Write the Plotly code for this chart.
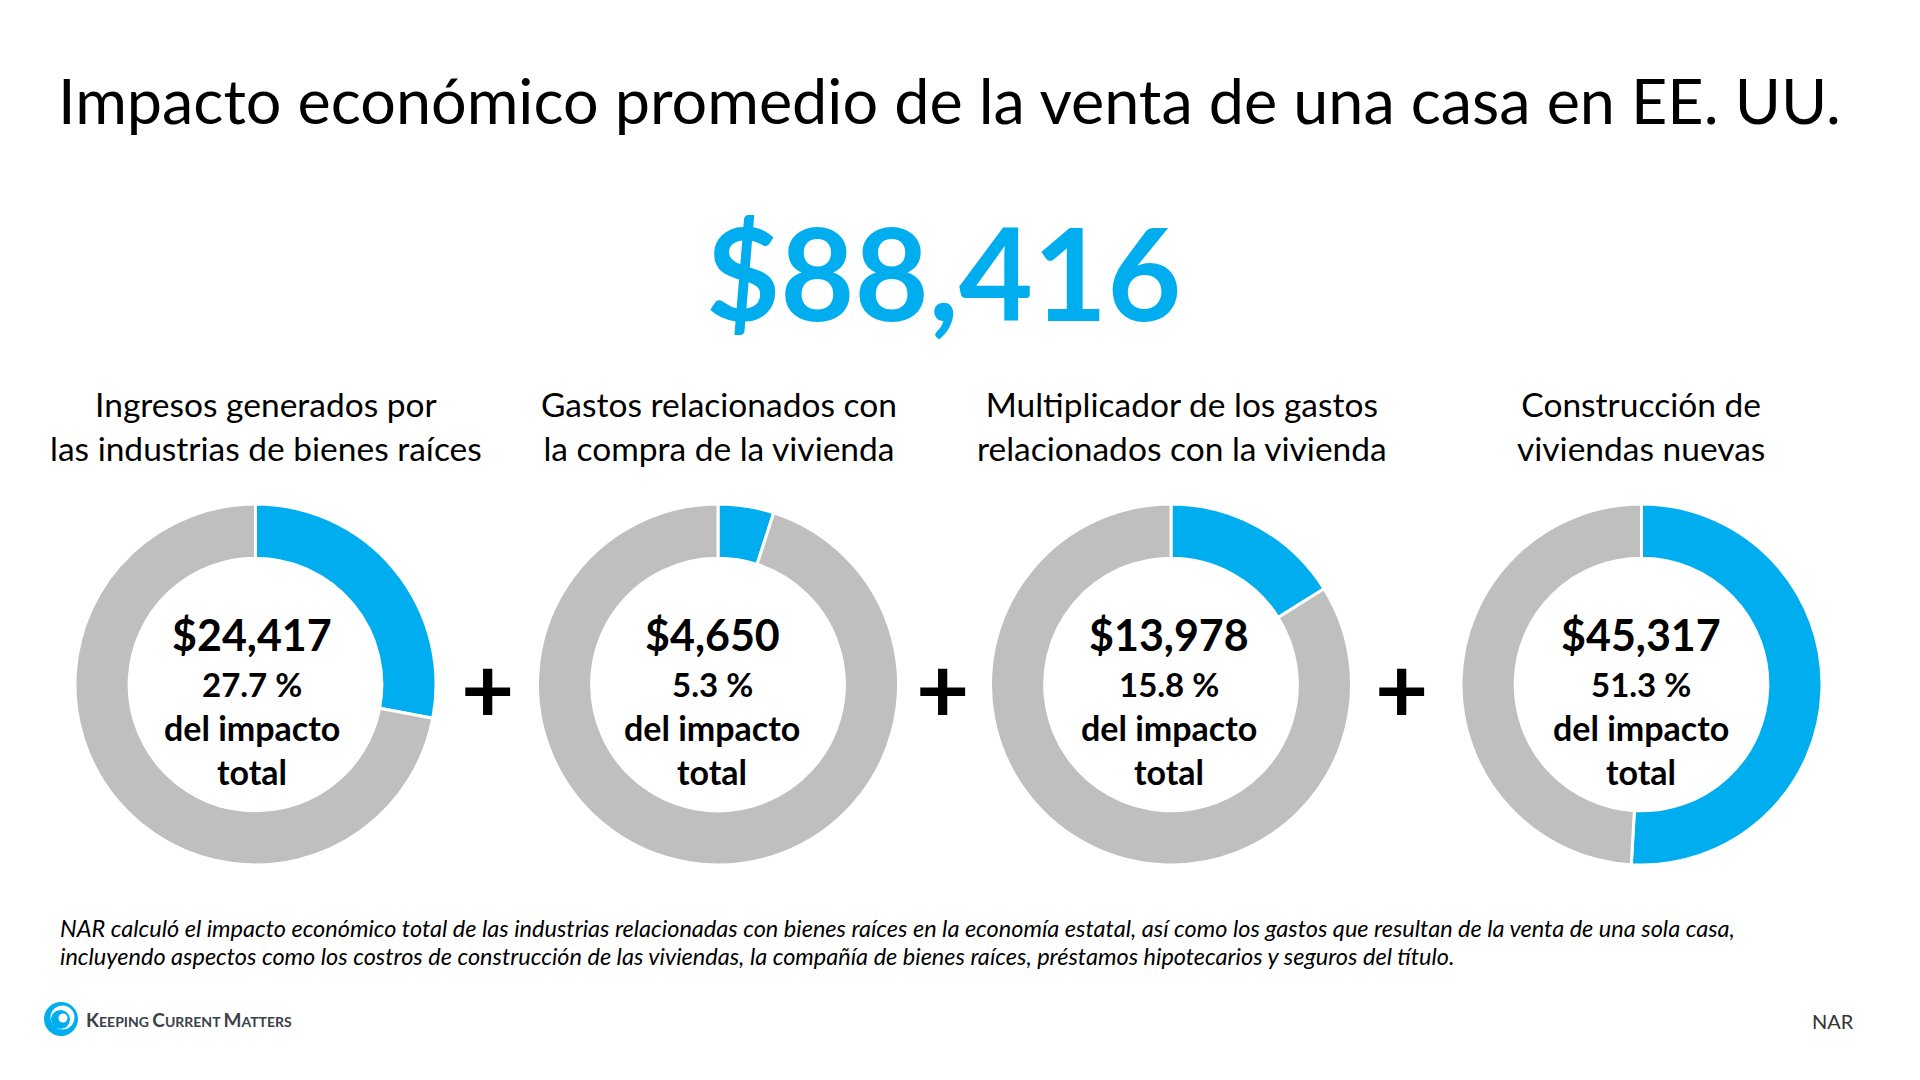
#!/usr/bin/env python3
"""Impacto economico promedio de la venta de una casa: four donuts."""

import plotly.graph_objects as go

W, H = 1920, 1080
BLUE = "#00AEEF"
GRAY = "#BFBFBF"
FONT = "Lato"

TITLE = "Impacto económico promedio de la venta de una casa en EE. UU."
TOTAL = "$88,416"
LABELS = [
    "Ingresos generados por<br>las industrias de bienes raíces",
    "Gastos relacionados con<br>la compra de la vivienda",
    "Multiplicador de los gastos<br>relacionados con la vivienda",
    "Construcción de<br>viviendas nuevas",
]
AMOUNTS = ["$24,417", "$4,650", "$13,978", "$45,317"]
SHARE = ["27.7", "5.3", "15.8", "51.3"]
# arcs as drawn in the picture, slightly off the printed shares
SLICE = [28.0, 5.0, 16.1, 50.9]
REST = [72.0, 95.0, 83.9, 49.1]
NOTE_LINES = [
    "NAR calculó el impacto económico total de las industrias relacionadas con bienes raíces en la economía estatal, "
    "así como los gastos que resultan de la venta de una sola casa,",
    "incluyendo aspectos como los costros de construcción de las viviendas, la compañía de bienes raíces, "
    "préstamos hipotecarios y seguros del título.",
]

# pixel layout of the slide
DONUT_X = [255.5, 718, 1171, 1641.5]
DONUT_Y = 684.5
RADIUS = 180.5
LABEL_X = [266, 719, 1182, 1641]
CENTER_X = [252, 712, 1169, 1641]
PLUS_X = [487.5, 942.5, 1401]


def px(x):
    return x / W


def py(y):
    return 1 - y / H


def text(x, y, s, size, color="#000000", bold=False, italic=False, anchor="center"):
    if bold:
        s = f"<b>{s}</b>"
    if italic:
        s = f"<i>{s}</i>"
    return dict(
        x=px(x), y=py(y), xref="paper", yref="paper", text=s, showarrow=False,
        xanchor=anchor, yanchor="middle", align=anchor,
        font=dict(family=FONT, size=size, color=color),
    )


fig = go.Figure()
for i, cx in enumerate(DONUT_X):
    fig.add_trace(go.Pie(
        values=[SLICE[i], REST[i]],
        labels=["Impacto", "Resto"],
        hole=0.70,
        sort=False,
        direction="clockwise",
        rotation=0,
        textinfo="none",
        hoverinfo="skip",
        showlegend=False,
        marker=dict(colors=[BLUE, GRAY], line=dict(color="white", width=3)),
        domain=dict(
            x=[px(cx - RADIUS), px(cx + RADIUS)],
            y=[py(DONUT_Y + RADIUS), py(DONUT_Y - RADIUS)],
        ),
    ))

notes = [
    text(949.6, 100, TITLE, 62.9),
    text(943, 272, TOTAL, 128, color=BLUE, bold=True),
    text(1833, 1021, "NAR", 20, color="#333333"),
    text(58, 927.5, NOTE_LINES[0], 23.5, italic=True, anchor="left"),
    text(58, 955.5, NOTE_LINES[1], 23.5, italic=True, anchor="left"),
    text(84, 1019,
         '<span style="font-size:19px">K</span>EEPING '
         '<span style="font-size:19px">C</span>URRENT '
         '<span style="font-size:19px">M</span>ATTERS',
         14, color="#3A4149", bold=True, anchor="left"),
]
for i in range(4):
    notes.append(text(LABEL_X[i], 425.5, LABELS[i], 33.5))
    notes.append(text(CENTER_X[i], 634, AMOUNTS[i], 43, bold=True))
    notes.append(text(CENTER_X[i], 684, f"{SHARE[i]} %", 33, bold=True))
    notes.append(text(CENTER_X[i], 727, "del impacto", 34, bold=True))
    notes.append(text(CENTER_X[i], 771, "total", 34, bold=True))
for x in PLUS_X:
    notes.append(text(x, 687, "+", 92, bold=True))


def circle(cx, cy, r, color):
    return dict(type="circle", xref="paper", yref="paper", layer="above",
                x0=px(cx - r), x1=px(cx + r), y0=py(cy + r), y1=py(cy - r),
                fillcolor=color, line=dict(width=0))


# logo swirl
logo = [
    circle(61, 1019, 17, BLUE),
    circle(62.5, 1017.5, 12, "white"),
    circle(60.5, 1019.5, 9.5, BLUE),
    circle(63, 1018, 4.5, "white"),
]

fig.update_layout(
    width=W, height=H,
    margin=dict(l=0, r=0, t=0, b=0),
    paper_bgcolor="white",
    plot_bgcolor="white",
    annotations=notes,
    shapes=logo,
)

fig.write_html("out.html", config={"displayModeBar": False},
               post_script="document.body.style.margin='0';")
